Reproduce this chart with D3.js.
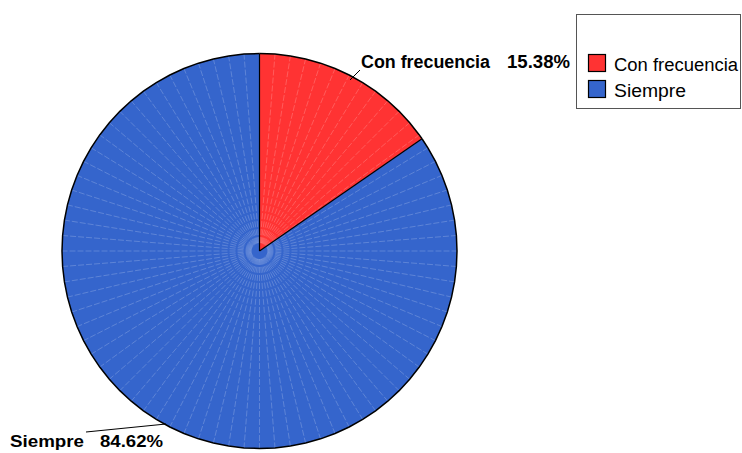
<!DOCTYPE html>
<html><head><meta charset="utf-8">
<script src="https://cdn.jsdelivr.net/npm/d3@7"></script>
<style>body{margin:0;background:#fff}svg{display:block}</style>
</head><body>
<script>
const categories = ["Con frecuencia", "Siempre"];
const values = [15.38, 84.62];
const pctLabels = ["15.38%", "84.62%"];
const colors = ["#ff3333", "#3565cc"];

const W = 742, H = 453;
const svg = d3.select("body").append("svg").attr("width", W).attr("height", H);
const cx = 259.5, cy = 251, R = 197.5;
const g = svg.append("g").attr("transform", `translate(${cx},${cy})`);

const pie = d3.pie().sort(null).value(d => d)(values);
const step = 2 * Math.PI / 80;

pie.forEach((p, i) => {
  const angs = [p.startAngle];
  let a = Math.ceil(p.startAngle / step + 1e-6) * step;
  while (a < p.endAngle - 1e-6) { angs.push(a); a += step; }
  angs.push(p.endAngle);
  const pts = [[0, 0]].concat(angs.map(t => [t, R]));
  const line = d3.lineRadial().angle(d => d[0]).radius(d => d[1]).curve(d3.curveLinearClosed);
  g.append("path").attr("d", line(pts)).attr("fill", colors[i]).attr("stroke", "none");
  angs.slice(1, -1).forEach(t => {
    g.append("line")
      .attr("x1", 8 * Math.sin(t)).attr("y1", -8 * Math.cos(t))
      .attr("x2", R * Math.sin(t)).attr("y2", -R * Math.cos(t))
      .attr("stroke", "#ffffff").attr("stroke-opacity", 0.25).attr("stroke-width", 0.8)
      .attr("stroke-dasharray", "6,2");
  });
  const arcLine = d3.lineRadial().angle(d => d[0]).radius(d => d[1]);
  g.append("path").attr("d", arcLine(angs.map(t => [t, R]))).attr("fill", "none").attr("stroke", "#000").attr("stroke-width", 1.5);
});
const redP = pie[0];
[redP.startAngle, redP.endAngle].forEach(t => {
  g.append("line").attr("x1", 0).attr("y1", 0)
    .attr("x2", R * Math.sin(t)).attr("y2", -R * Math.cos(t))
    .attr("stroke", "#000").attr("stroke-width", 1.2);
});

const font = "Liberation Sans, Arial, sans-serif";
const lab = svg.append("g").attr("font-family", font).attr("font-weight", "bold").attr("font-size", 17.5);
function t(x, y, s, len, fs) {
  lab.append("text").attr("x", x).attr("y", y).text(s).attr("font-size", fs)
    .attr("textLength", len).attr("lengthAdjust", "spacingAndGlyphs");
}
lab.append("line").attr("x1", 350).attr("y1", 80).attr("x2", 360).attr("y2", 70).attr("stroke", "#000");
t(361, 67.5, categories[0], 129, 17.5);
t(507, 67.5, pctLabels[0], 63, 17.5);
lab.append("line").attr("x1", 86).attr("y1", 432).attr("x2", 166).attr("y2", 424).attr("stroke", "#000");
t(10, 447, categories[1], 74, 16.5);
t(100, 447, pctLabels[1], 63, 16.5);

const leg = svg.append("g");
leg.append("rect").attr("x", 576.5).attr("y", 14.5).attr("width", 164).attr("height", 94)
  .attr("fill", "#fff").attr("stroke", "#555").attr("stroke-width", 1);
const legLen = [124, 72];
categories.forEach((c, i) => {
  leg.append("rect").attr("x", 588.5).attr("y", 54.5 + i * 26).attr("width", 17).attr("height", 17)
    .attr("fill", colors[i]).attr("stroke", "#000").attr("stroke-width", 1.2);
  leg.append("text").attr("x", 614).attr("y", 71 + i * 26).text(c)
    .attr("font-family", font).attr("font-size", 18)
    .attr("textLength", legLen[i]).attr("lengthAdjust", "spacingAndGlyphs").attr("fill", "#000");
});
</script>
</body></html>
